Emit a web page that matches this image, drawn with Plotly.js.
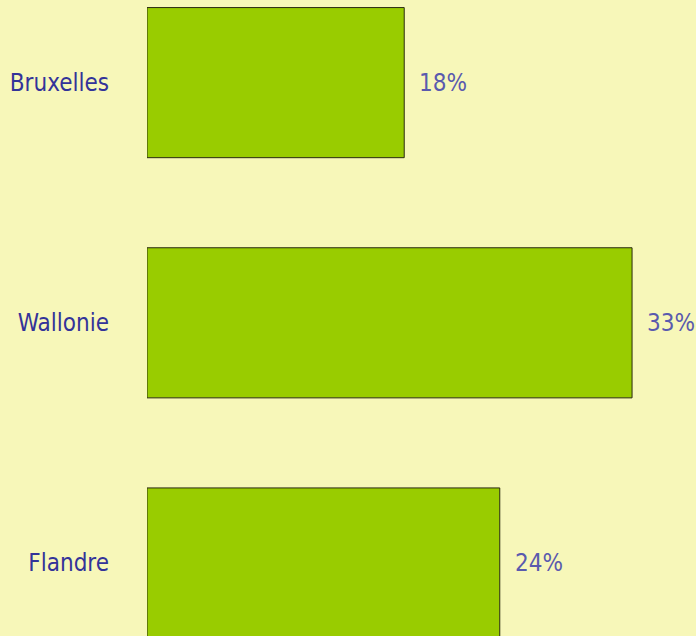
<!DOCTYPE html>
<html>
<head>
<meta charset="utf-8">
<script src="https://cdn.plot.ly/plotly-3.0.1.min.js"></script>
<style>html,body{margin:0;padding:0;background:#F7F7B9;}</style>
</head>
<body>
<div id="chart" style="width:696px;height:636px;"></div>
<script>
const regions = ["Flandre", "Wallonie", "Bruxelles"];
const values = [24, 33, 17.5];
const valueLabels = ["24%", "33%", "18%"];

const FONT = "DejaVu Sans Condensed, Liberation Sans Narrow, sans-serif";

const trace = {
  type: "bar",
  orientation: "h",
  y: regions,
  x: values,
  width: 0.625,
  marker: {color: "#99CC00", line: {color: "#2A2A10", width: 1}},
  hoverinfo: "none"
};

const annotations = regions.map((r, i) => ({
  x: values[i], y: r, xref: "x", yref: "y",
  text: valueLabels[i], showarrow: false,
  xanchor: "left", yanchor: "middle", xshift: 13,
  font: {family: FONT, size: 24, color: "#5A5AAE"}
}));

const layout = {
  width: 696, height: 636,
  margin: {l: 147, r: 0, t: 0, b: 0},
  paper_bgcolor: "#F7F7B9",
  plot_bgcolor: "#F7F7B9",
  showlegend: false,
  xaxis: {range: [0, 37.35], visible: false, fixedrange: true},
  yaxis: {
    range: [-0.304, 2.344], showgrid: false, zeroline: false, showline: false,
    ticks: "", ticklabelstandoff: 37,
    tickfont: {family: FONT, size: 24, color: "#333399"},
    fixedrange: true
  },
  annotations: annotations
};

Plotly.newPlot("chart", [trace], layout, {displayModeBar: false, staticPlot: true});
</script>
</body>
</html>
